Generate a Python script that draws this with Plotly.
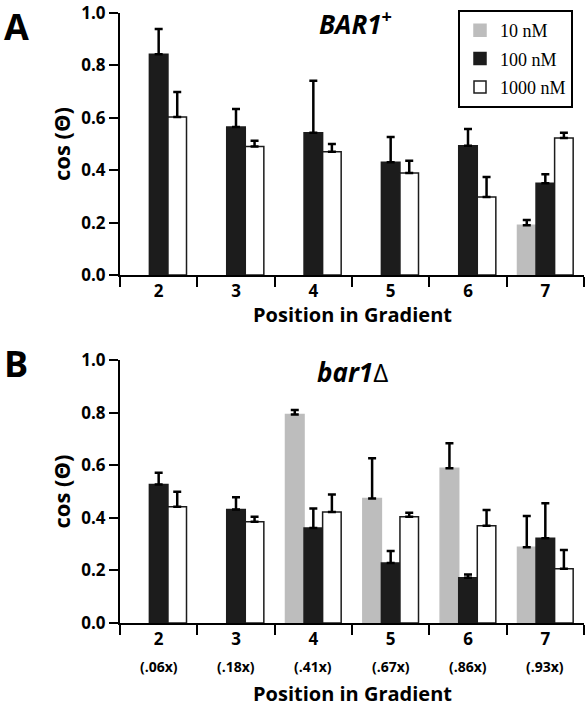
import plotly.graph_objects as go

positions = ["2", "3", "4", "5", "6", "7"]
fold_labels = ["(.06x)", "(.18x)", "(.41x)", "(.67x)", "(.86x)", "(.93x)"]
series_names = ["10 nM", "100 nM", "1000 nM"]

# Panel A: BAR1+
a_10 = [None, None, None, None, None, 0.19]
a_10_err = [None, None, None, None, None, 0.02]
a_100 = [0.843, 0.565, 0.543, 0.430, 0.493, 0.350]
a_100_err = [0.096, 0.069, 0.198, 0.097, 0.064, 0.035]
a_1000 = [0.603, 0.490, 0.470, 0.389, 0.298, 0.523]
a_1000_err = [0.095, 0.022, 0.030, 0.047, 0.076, 0.020]

# Panel B: bar1Δ
b_10 = [None, None, 0.793, 0.473, 0.588, 0.288]
b_10_err = [None, None, 0.017, 0.153, 0.095, 0.119]
b_100 = [0.527, 0.432, 0.361, 0.228, 0.172, 0.322]
b_100_err = [0.044, 0.046, 0.074, 0.046, 0.012, 0.133]
b_1000 = [0.442, 0.385, 0.422, 0.404, 0.370, 0.206]
b_1000_err = [0.057, 0.019, 0.067, 0.015, 0.060, 0.072]

y_ticks = [0.0, 0.2, 0.4, 0.6, 0.8, 1.0]

colors = ["#bdbdbd", "#1c1c1c", "#ffffff"]
line_colors = ["#bdbdbd", "#1c1c1c", "#1c1c1c"]

SANS = "Open Sans"

fig = go.Figure()

def add_panel(vals, errs, xa, ya, showlegend):
    for i, (v, e) in enumerate(zip(vals, errs)):
        fig.add_trace(go.Bar(
            x=positions, y=v, name=series_names[i], legendgroup=series_names[i],
            marker=dict(color=colors[i], line=dict(color=line_colors[i], width=1.5)),
            error_y=dict(type="data", array=[x if x is not None else 0 for x in e],
                         arrayminus=[0] * len(e), symmetric=False,
                         color="black", thickness=2.5, width=4),
            xaxis=xa, yaxis=ya, showlegend=showlegend,
        ))

add_panel([a_10, a_100, a_1000], [a_10_err, a_100_err, a_1000_err], "x", "y", True)
add_panel([b_10, b_100, b_1000], [b_10_err, b_100_err, b_1000_err], "x2", "y2", False)

W, H = 586, 708
ml, mr, mt, mb = 120, 2, 13, 85
pw = W - ml - mr
ph = H - mt - mb
top_dom = [1 - 262 / ph, 1]
bot_dom = [0, 263 / ph]

def px_to_paper(xp, yp):
    return (xp - ml) / pw, (H - mb - yp) / ph

yaxis_common = dict(
    range=[0, 1], tickvals=y_ticks, tickformat=".1f",
    ticks="outside", ticklen=9, tickwidth=2, tickcolor="black",
    showline=True, linewidth=2, linecolor="black",
    showgrid=False, zeroline=False,
    tickfont=dict(family=SANS, size=17, color="black", weight="bold"),
    title=dict(text="cos (Θ)", font=dict(family=SANS, size=22, color="black", weight="bold"), standoff=5),
)
xaxis_common = dict(
    type="category", tickson="boundaries",
    ticks="outside", ticklen=10, tickwidth=2, tickcolor="black",
    showline=True, linewidth=2, linecolor="black",
    showgrid=False, zeroline=False,
    tickfont=dict(family=SANS, size=17, color="black", weight="bold"),
)

lx, ly = px_to_paper(573, 10)

fig.update_layout(
    width=W, height=H,
    margin=dict(l=ml, r=mr, t=mt, b=mb),
    paper_bgcolor="white", plot_bgcolor="white",
    barmode="group", bargap=0.28, bargroupgap=0,
    xaxis=dict(**xaxis_common, anchor="y"),
    yaxis=dict(**yaxis_common, domain=top_dom, anchor="x"),
    xaxis2=dict(**xaxis_common, anchor="y2"),
    yaxis2=dict(**yaxis_common, domain=bot_dom, anchor="x2"),
    legend=dict(
        x=lx, xanchor="right", y=ly, yanchor="top",
        bordercolor="black", borderwidth=2, bgcolor="white",
        font=dict(family="Liberation Serif", size=18, color="black"),
        tracegroupgap=2, itemwidth=30,
    ),
)

# panel letters
ax, ay = px_to_paper(2, 0)
bx, by = px_to_paper(2, 364)
fig.add_annotation(text="<b>A</b>", x=ax, y=ay, xref="paper", yref="paper", showarrow=False,
                   font=dict(family=SANS, size=36, color="black"), xanchor="left", yanchor="top")
fig.add_annotation(text="<b>B</b>", x=bx, y=by, xref="paper", yref="paper", showarrow=False,
                   font=dict(family=SANS, size=36, color="black"), xanchor="left", yanchor="middle")

# panel titles
t1x, t1y = px_to_paper(355, 23)
t2x, t2y = px_to_paper(352, 372)
fig.add_annotation(text="<b><i>BAR1</i></b><sup><b>+</b></sup>", x=t1x, y=t1y, xref="paper", yref="paper", showarrow=False,
                   font=dict(family=SANS, size=26, color="black"), xanchor="center", yanchor="middle")
fig.add_annotation(text="<b><i>bar1</i></b>Δ", x=t2x, y=t2y, xref="paper", yref="paper", showarrow=False,
                   font=dict(family=SANS, size=26, color="black"), xanchor="center", yanchor="middle")

# x-axis titles
cx = (352 - ml) / pw
_, xt1 = px_to_paper(352, 314)
_, xt2 = px_to_paper(352, 694)
for yy in (xt1, xt2):
    fig.add_annotation(text="<b>Position in Gradient</b>", x=cx, y=yy, xref="paper", yref="paper",
                       showarrow=False, font=dict(family=SANS, size=20, color="black"),
                       xanchor="center", yanchor="middle")

# fold labels under bottom axis (x as category index)
_, fy = px_to_paper(0, 666)
for i, f in enumerate(fold_labels):
    fig.add_annotation(text=f"<b>{f}</b>", x=i, y=fy, xref="x2", yref="paper", showarrow=False,
                       font=dict(family=SANS, size=14, color="black"), xanchor="center", yanchor="middle")

fig.write_html("out.html", config={"displayModeBar": False},
               post_script="document.body.style.margin='0px';")
